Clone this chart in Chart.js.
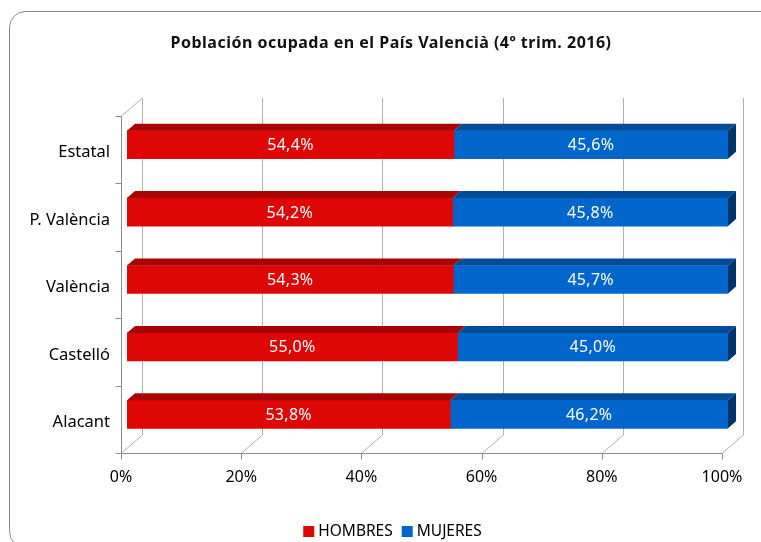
<!DOCTYPE html>
<html><head><meta charset="utf-8">
<script src="https://cdn.jsdelivr.net/npm/chart.js@4"></script>
<style>html,body{margin:0;padding:0;background:#fff}#wrap{width:761px;height:542px}</style>
</head><body><div id="wrap"><canvas id="c" width="761" height="542"></canvas></div>
<script>
const chartTitle = 'Población ocupada en el País Valencià (4º trim. 2016)';
const categories = ['Estatal', 'P. València', 'València', 'Castelló', 'Alacant'];
const hombres = [54.4, 54.2, 54.3, 55.0, 53.8];
const mujeres = [45.6, 45.8, 45.7, 45.0, 46.2];
const xTicks = [0, 20, 40, 60, 80, 100];
const seriesNames = ['HOMBRES', 'MUJERES'];

const FONT = '"Noto Sans", "DejaVu Sans", sans-serif';
const front = ['#DD0806', '#0066CC'];
const topC = ['#A80505', '#004C99'];
const sideC = '#003366';
const D = { dx: 21, dy: 18, bx: 6, by: -5, tx: 8, ty: 7 };

function line(ctx, x1, y1, x2, y2) { ctx.beginPath(); ctx.moveTo(x1, y1); ctx.lineTo(x2, y2); ctx.stroke(); }
function poly(ctx, pts, col) { ctx.beginPath(); ctx.moveTo(pts[0][0], pts[0][1]); for (let i = 1; i < pts.length; i++) ctx.lineTo(pts[i][0], pts[i][1]); ctx.closePath(); ctx.fillStyle = col; ctx.fill(); }

const deco = {
  id: 'deco',
  beforeDraw(chart) {
    const ctx = chart.ctx;
    ctx.save();
    ctx.strokeStyle = '#8a8a8a'; ctx.lineWidth = 1;
    ctx.beginPath();
    ctx.roundRect(9.5, 11.5, 820, 536, 16);
    ctx.stroke();
    // title
    ctx.fillStyle = '#111';
    ctx.font = 'bold 16px ' + FONT;
    ctx.letterSpacing = '0.5px';
    ctx.textAlign = 'center'; ctx.textBaseline = 'middle';
    ctx.fillText(chartTitle, 391, 43);
    // legend
    ctx.letterSpacing = '0px';
    ctx.font = '15.5px ' + FONT;
    const w1 = ctx.measureText(seriesNames[0]).width, w2 = ctx.measureText(seriesNames[1]).width;
    const box = 11, g1 = 4, g2 = 9;
    const total = box + g1 + w1 + g2 + box + g1 + w2;
    let lx = 392.5 - total / 2;
    const ly = 532;
    ctx.textAlign = 'left';
    ctx.fillStyle = front[0]; ctx.fillRect(lx, ly - 6, box, box);
    ctx.fillStyle = '#000'; ctx.fillText(seriesNames[0], lx + box + g1, ly);
    lx += box + g1 + w1 + g2;
    ctx.fillStyle = front[1]; ctx.fillRect(lx, ly - 6, box, box);
    ctx.fillStyle = '#000'; ctx.fillText(seriesNames[1], lx + box + g1, ly);
    ctx.restore();
  },
  beforeDatasetsDraw(chart) {
    const { ctx, chartArea: a, scales: { x } } = chart;
    ctx.save();
    ctx.lineWidth = 1;
    ctx.strokeStyle = '#b0b0b0';
    xTicks.forEach(v => {
      const px = Math.round(x.getPixelForValue(v)) + 0.5;
      line(ctx, px + D.dx, a.top - D.dy, px + D.dx, a.bottom - D.dy);
      line(ctx, px, a.bottom, px + D.dx, a.bottom - D.dy);
    });
    const L = Math.round(a.left) + 0.5;
    line(ctx, L, a.top, L + D.dx, a.top - D.dy);
    ctx.strokeStyle = '#8c8c8c';
    line(ctx, L, a.top, L, a.bottom);
    for (let i = 0; i <= categories.length; i++) {
      const yb = Math.round(a.top + i * (a.bottom - a.top) / categories.length) + 0.5;
      line(ctx, L - 6, yb, L, yb);
    }
    const B = Math.round(a.bottom) + 0.5;
    line(ctx, L, B, a.right, B);
    xTicks.forEach(v => {
      const px = Math.round(x.getPixelForValue(v)) + 0.5;
      line(ctx, px, B, px, B + 6);
    });
    ctx.restore();
    ctx.save();
    ctx.translate(D.bx, D.by);
  },
  afterDatasetsDraw(chart) {
    const ctx = chart.ctx;
    ctx.restore();
    ctx.save();
    ctx.translate(D.bx, D.by);
    const m0 = chart.getDatasetMeta(0).data, m1 = chart.getDatasetMeta(1).data;
    for (let j = 0; j < categories.length; j++) {
      [m0[j], m1[j]].forEach((el, k) => {
        const p = el.getProps(['x', 'y', 'base', 'height'], true);
        const x0 = Math.min(p.base, p.x), x1 = Math.max(p.base, p.x);
        const y0 = p.y - p.height / 2, y1 = p.y + p.height / 2;
        poly(ctx, [[x0, y0], [x1, y0], [x1 + D.tx, y0 - D.ty], [x0 + D.tx, y0 - D.ty]], topC[k]);
        if (k === 1) poly(ctx, [[x1, y0], [x1 + D.tx, y0 - D.ty], [x1 + D.tx, y1 - D.ty], [x1, y1]], sideC);
      });
    }
    ctx.fillStyle = '#fff';
    ctx.font = '16px ' + FONT;
    ctx.letterSpacing = '0.3px';
    ctx.textAlign = 'center'; ctx.textBaseline = 'middle';
    [m0, m1].forEach((meta, k) => {
      const vals = k === 0 ? hombres : mujeres;
      meta.forEach((el, j) => {
        const p = el.getProps(['x', 'y', 'base'], true);
        ctx.fillText(vals[j].toFixed(1).replace('.', ',') + '%', (p.x + p.base) / 2, p.y + 1);
      });
    });
    ctx.restore();
  }
};

new Chart(document.getElementById('c'), {
  type: 'bar',
  data: {
    labels: categories,
    datasets: [
      { label: seriesNames[0], data: hombres, backgroundColor: front[0], barThickness: 28, borderWidth: 0 },
      { label: seriesNames[1], data: mujeres, backgroundColor: front[1], barThickness: 28, borderWidth: 0 }
    ]
  },
  options: {
    indexAxis: 'y',
    responsive: false,
    animation: false,
    devicePixelRatio: 1,
    layout: { padding: { top: 116, left: 0, right: 39, bottom: 49 } },
    plugins: { legend: { display: false }, title: { display: false }, tooltip: { enabled: false } },
    scales: {
      x: {
        stacked: true, min: 0, max: 100, clip: false,
        afterFit(s) { s.height = 40; },
        afterBuildTicks(s) { s.ticks = xTicks.map(v => ({ value: v })); },
        grid: { display: false, drawTicks: false }, border: { display: false },
        ticks: { padding: 15, color: '#000', font: { family: FONT, size: 16 }, callback: v => v + '%', maxRotation: 0 }
      },
      y: {
        stacked: true, clip: false,
        afterFit(s) { s.width = 121; },
        grid: { display: false, drawTicks: false }, border: { display: false },
        ticks: { padding: 11, labelOffset: 3, color: '#000', font: { family: FONT, size: 16.5 } }
      }
    }
  },
  plugins: [deco]
});
</script></body></html>
